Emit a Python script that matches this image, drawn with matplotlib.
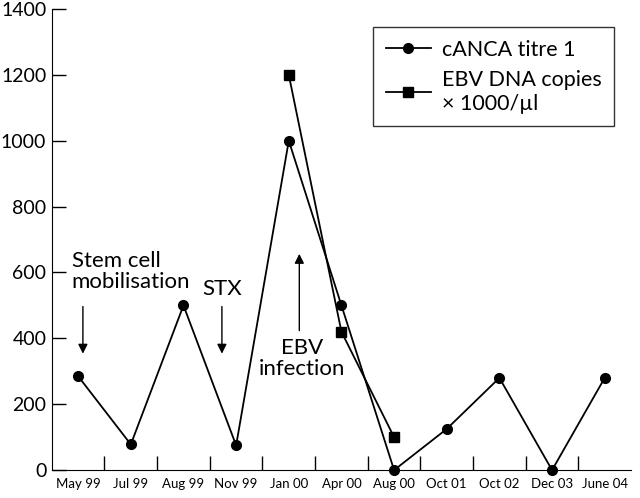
import numpy as np
import matplotlib
matplotlib.use("Agg")
import matplotlib.pyplot as plt

plt.rcParams['font.family'] = ['Lato', 'DejaVu Sans']

# Data
dates = ["May 99", "Jul 99", "Aug 99", "Nov 99", "Jan 00", "Apr 00",
         "Aug 00", "Oct 01", "Oct 02", "Dec 03", "June 04"]
canca = [285, 78, 500, 75, 1000, 500, 0, 125, 280, 0, 280]
ebv_dates = ["Jan 00", "Apr 00", "Aug 00"]
ebv = [1200, 420, 100]

x = np.arange(len(dates))
ebv_x = [dates.index(d) for d in ebv_dates]

fig = plt.figure(figsize=(6.4, 4.98), dpi=100)
ax = fig.add_axes([0.081, 0.056, 0.905, 0.926])

ax.plot(x, canca, color="black", lw=1.3, marker="o", markersize=7,
        label="cANCA titre 1", clip_on=False, zorder=3)
ax.plot(ebv_x, ebv, color="black", lw=1.3, marker="s", markersize=6.5,
        label="EBV DNA copies\n\u00d7 1000/\u00b5l", clip_on=False, zorder=3)

ax.set_xlim(-0.5, len(dates) - 0.5)
ax.set_ylim(0, 1400)
ax.set_yticks(range(0, 1401, 200))
ax.tick_params(axis="y", direction="in", length=10, width=1, labelsize=14, pad=4)

ax.set_xticks(x)
ax.set_xticklabels(dates, fontsize=9.5)
ax.tick_params(axis="x", which="major", length=0, pad=6)
ax.set_xticks(np.arange(0.5, len(dates) - 0.5, 1), minor=True)
ax.tick_params(axis="x", which="minor", direction="in", length=10, width=1)

ax.spines["top"].set_visible(False)
ax.spines["right"].set_visible(False)

# Annotations
arrow = dict(arrowstyle="-|>", color="black", lw=1, mutation_scale=14)
ax.annotate("", xy=(0.09, 345), xytext=(0.09, 505), arrowprops=arrow)
ax.text(-0.12, 540, "Stem cell\nmobilisation", fontsize=16, ha="left", va="bottom",
        linespacing=1.05)
ax.annotate("", xy=(2.73, 345), xytext=(2.73, 505), arrowprops=arrow)
ax.text(2.73, 520, "STX", fontsize=16, ha="center", va="bottom")
ax.annotate("", xy=(4.2, 665), xytext=(4.2, 415), arrowprops=arrow)
ax.text(4.25, 400, "EBV\ninfection", fontsize=16, ha="center", va="top",
        linespacing=1.05)

leg = ax.legend(loc="upper right", bbox_to_anchor=(0.99, 0.985), fontsize=15.5,
                frameon=True, fancybox=False, edgecolor="black",
                handlelength=2.1, handletextpad=0.5, borderpad=0.6,
                labelspacing=0.5)
leg.get_frame().set_linewidth(1)

plt.savefig("out.png", dpi=100)
